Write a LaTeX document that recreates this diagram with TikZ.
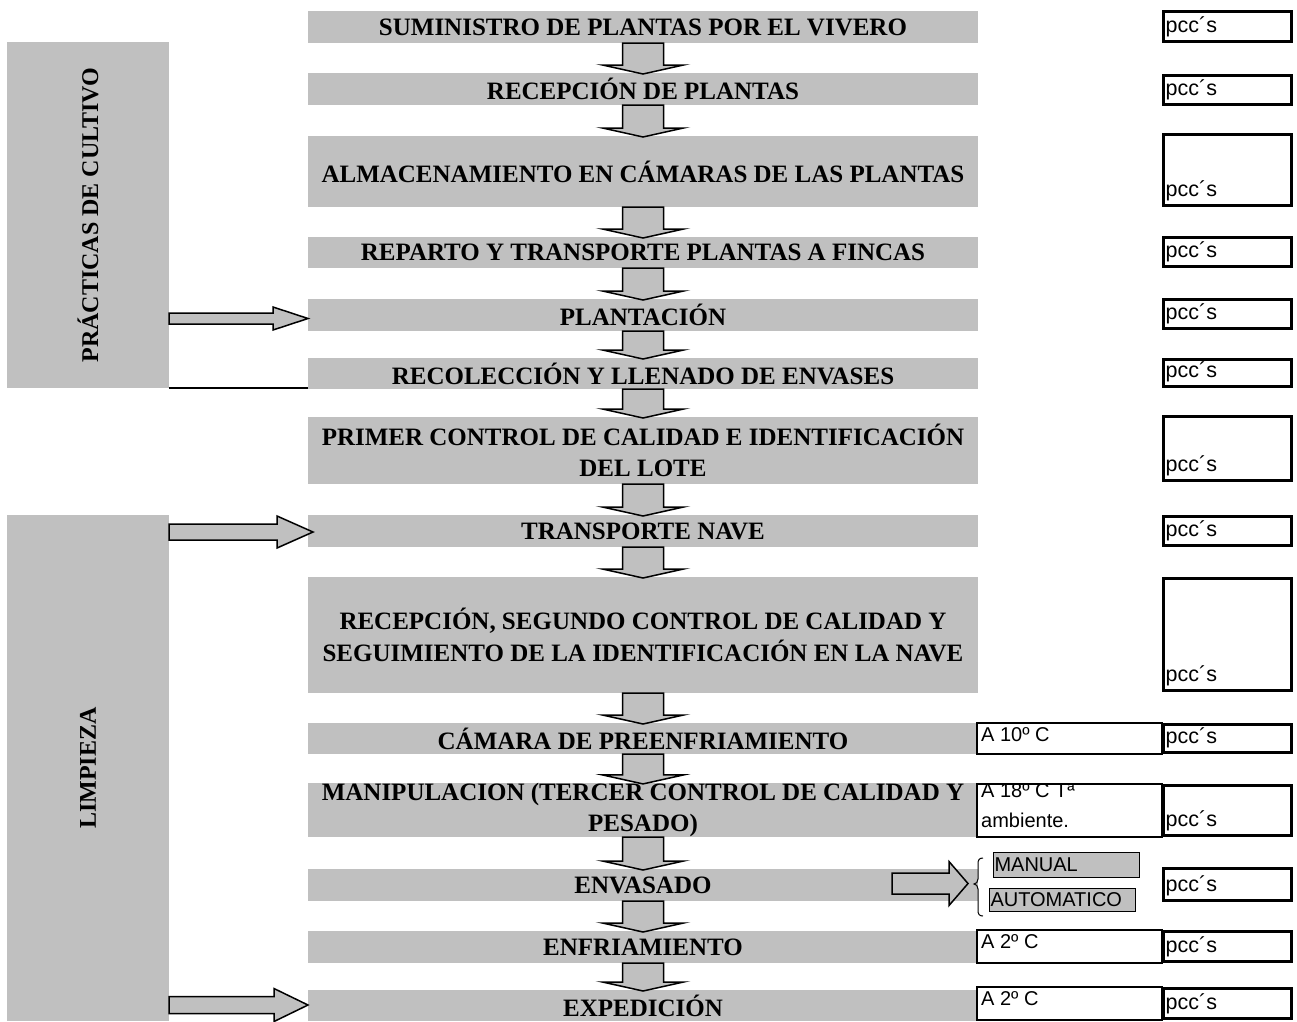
\documentclass[tikz,border=0pt]{standalone}
\usepackage{fontspec}
\setmainfont{Liberation Serif}
\newfontfamily\arialf{Liberation Sans}
\usetikzlibrary{calc}
\definecolor{grayfill}{HTML}{C0C0C0}
\newcommand\dblock[2]{%
  \draw[blk] ($(#1.south)+(-20.5,0)$) -- ($(#2.north)+(-20.5,-8)$) -- ($(#2.north)+(-40.5,-8)$) -- ($(#2.north)+(0,1)$) -- ($(#2.north)+(40.5,-8)$) -- ($(#2.north)+(20.5,-8)$) -- ($(#1.south)+(20.5,0)$) -- cycle;}
\newcommand\rblock[5]{%
  \draw[blk] ($(#1)+(0,-#3)$) -- ($(#2)+(-#5,-#3)$) -- ($(#2)+(-#5,-#4)$) -- (#2) -- ($(#2)+(-#5,#4)$) -- ($(#2)+(-#5,#3)$) -- ($(#1)+(0,#3)$) -- cycle;}
\begin{document}
\begin{tikzpicture}[x=1pt,y=-1pt,
  proc/.style={fill=grayfill, inner sep=0pt, outer sep=0pt, minimum width=670, align=center, font=\bfseries\fontsize{25}{31.5}\selectfont},
  panel/.style={fill=grayfill, inner sep=0pt, outer sep=0pt},
  pcc/.style={draw, line width=3pt, inner sep=0pt, outer sep=0pt, minimum width=128},
  tbox/.style={draw, line width=1.5pt, inner sep=0pt, outer sep=0pt, minimum width=185},
  opt/.style={draw, line width=1pt, fill=grayfill, inner sep=0pt, outer sep=0pt, text width=143, align=left, font=\arialf\fontsize{20}{24}\selectfont},
  stxt/.style={font=\arialf\fontsize{20}{24}\selectfont, inner sep=0pt, anchor=base west},
  ptxt/.style={font=\arialf\fontsize{21.5}{24}\selectfont, inner sep=0pt, anchor=base west},
  blk/.style={draw, line width=1.5pt, fill=grayfill, line join=miter},
  vlab/.style={rotate=90, font=\bfseries\fontsize{24}{28}\selectfont, inner sep=0pt}
]
\useasboundingbox (0,0) rectangle (1297,1021);

% left panels
\node[panel, minimum width=162, minimum height=346] (pc) at (88,215) {};
\node[vlab] (pclab) at (pc.center) {PRÁCTICAS DE CULTIVO};
\node[panel, minimum width=162, minimum height=506] (lp) at (88,768) {};
\node[vlab] (lplab) at (lp.center) {LIMPIEZA};

% process boxes
\node[proc, minimum height=32] (s1) at (643,27) {SUMINISTRO DE PLANTAS POR EL VIVERO};
\node[proc, minimum height=32] (s2) at (643,89) {RECEPCIÓN DE PLANTAS};
\node[proc, minimum height=71] (s3) at (643,171.5) {ALMACENAMIENTO EN CÁMARAS DE LAS PLANTAS};
\node[proc, minimum height=31] (s4) at (643,252.5) {REPARTO Y TRANSPORTE PLANTAS A FINCAS};
\node[proc, minimum height=32] (s5) at (643,315) {PLANTACIÓN};
\node[proc, minimum height=31] (s6) at (643,373.5) {RECOLECCIÓN Y LLENADO DE ENVASES};
\node[proc, minimum height=67] (s7) at (643,450.5) {PRIMER CONTROL DE CALIDAD E IDENTIFICACIÓN\\DEL LOTE};
\node[proc, minimum height=32] (s8) at (643,531) {TRANSPORTE NAVE};
\node[proc, minimum height=116] (s9) at (643,635) {RECEPCIÓN, SEGUNDO CONTROL DE CALIDAD Y\\SEGUIMIENTO DE LA IDENTIFICACIÓN EN LA NAVE};
\node[proc, minimum height=31] (s10) at (643,738.5) {CÁMARA DE PREENFRIAMIENTO};
\node[proc, minimum height=54] (s11) at (643,810) {MANIPULACION (TERCER CONTROL DE CALIDAD Y\\PESADO)};
\node[proc, minimum height=32] (s12) at (643,885) {ENVASADO};
\node[proc, minimum height=32] (s13) at (643,947) {ENFRIAMIENTO};
\node[proc, minimum height=31] (s14) at (643,1005.5) {EXPEDICIÓN};

% separator line
\draw[line width=1.5pt] (pc.south east) -- (pc.south east -| s6.west);

% down arrows
\dblock{s1}{s2}
\dblock{s2}{s3}
\dblock{s3}{s4}
\dblock{s4}{s5}
\dblock{s5}{s6}
\dblock{s6}{s7}
\dblock{s7}{s8}
\dblock{s8}{s9}
\dblock{s9}{s10}
\dblock{s10}{s11}
\dblock{s11}{s12}
\dblock{s12}{s13}
\dblock{s13}{s14}

% side arrows
\coordinate (h1t) at ($(s5.west)+(0,3.5)$);
\coordinate (h1s) at (pc.east |- h1t);
\rblock{h1s}{h1t}{5.5}{11.5}{35}
\coordinate (h2t) at ($(s8.west)+(5,1)$);
\coordinate (h2s) at (lp.east |- h2t);
\rblock{h2s}{h2t}{8}{16}{36}
\coordinate (h3t) at ($(s14.west)+(0,-0.5)$);
\coordinate (h3s) at (lp.east |- h3t);
\rblock{h3s}{h3t}{8.5}{16.5}{34}
\coordinate (e2) at ($(s12.east)+(-10,-1.5)$);
\coordinate (e1) at ($(e2)+(-76,0)$);
\rblock{e1}{e2}{10.5}{22}{19}

% brace and options
\draw[line width=1pt] (983,858) .. controls (979,858) and (978,860) .. (978,864) -- (978,879) .. controls (978,882) and (976,884) .. (974,884) .. controls (976,884) and (978,886) .. (978,889) -- (978,910) .. controls (978,914) and (979,916) .. (983,916);
\node[opt, minimum width=146, minimum height=25] (man) at (1066,864.5) {MANUAL};
\node[opt, minimum width=146, minimum height=23] (aut) at (1062,899.5) {AUTOMATICO};

% temperature boxes
\node[tbox, minimum height=31] (a10) at (1069.5,738.5) {};
\node[stxt] (a10t) at ($(a10.north west)+(4,18.5)$) {A 10º C};
\node[tbox, minimum height=53] (a11) at (1069.5,810.5) {};
\node[stxt] (a11t) at ($(a11.north west)+(4,13)$) {A 18º C Tª};
\node[stxt] (a11u) at ($(a11.north west)+(4,43)$) {ambiente.};
\node[tbox, minimum height=33] (a13) at (1069.5,946.5) {};
\node[stxt] (a13t) at ($(a13.north west)+(4,18.5)$) {A 2º C};
\node[tbox, minimum height=33] (a14) at (1069.5,1003.5) {};
\node[stxt] (a14t) at ($(a14.north west)+(4,18.5)$) {A 2º C};

% pcc boxes
\foreach \n/\cy/\h in {1/26.5/30, 2/90/29, 3/170/71, 4/252/29, 5/314/29, 6/373/27, 7/448.5/64, 8/531/29, 9/634.5/112, 10/738.5/28, 11/810.5/50, 12/884.5/32, 13/946.5/30, 14/1003.5/30} {
  \node[pcc, minimum height=\h] (p\n) at (1227.5,\cy) {};
  \node[ptxt] (p\n t) at ($(p\n.south west)+(2,-9.5)$) {pcc´s};
}
\end{tikzpicture}
\end{document}
